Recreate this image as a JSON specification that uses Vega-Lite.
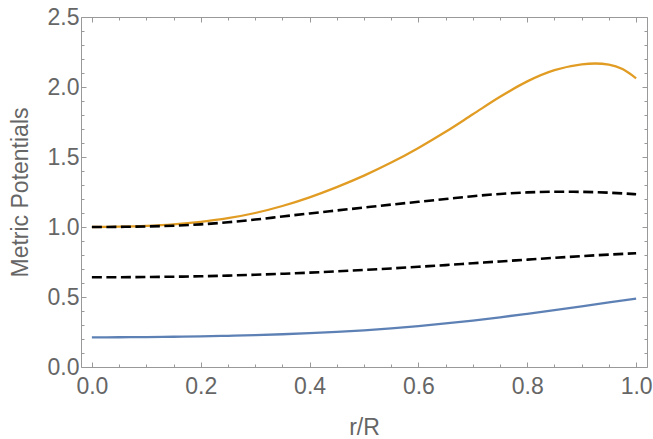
{
  "$schema": "https://vega.github.io/schema/vega-lite/v6.json",
  "width": 566,
  "height": 350,
  "autosize": {"type": "none"},
  "padding": {"left": 81, "top": 17, "right": 6, "bottom": 72},
  "background": "white",
  "config": {"view": {"stroke": null}},
  "data": {
    "values": [
      {"x": 0.0, "y": 0.212, "series": "blue"},
      {"x": 0.05, "y": 0.2125, "series": "blue"},
      {"x": 0.1, "y": 0.214, "series": "blue"},
      {"x": 0.15, "y": 0.216, "series": "blue"},
      {"x": 0.2, "y": 0.219, "series": "blue"},
      {"x": 0.25, "y": 0.223, "series": "blue"},
      {"x": 0.3, "y": 0.228, "series": "blue"},
      {"x": 0.35, "y": 0.234, "series": "blue"},
      {"x": 0.4, "y": 0.242, "series": "blue"},
      {"x": 0.45, "y": 0.251, "series": "blue"},
      {"x": 0.5, "y": 0.262, "series": "blue"},
      {"x": 0.55, "y": 0.276, "series": "blue"},
      {"x": 0.6, "y": 0.292, "series": "blue"},
      {"x": 0.65, "y": 0.311, "series": "blue"},
      {"x": 0.7, "y": 0.332, "series": "blue"},
      {"x": 0.75, "y": 0.355, "series": "blue"},
      {"x": 0.8, "y": 0.38, "series": "blue"},
      {"x": 0.85, "y": 0.406, "series": "blue"},
      {"x": 0.9, "y": 0.433, "series": "blue"},
      {"x": 0.95, "y": 0.461, "series": "blue"},
      {"x": 1.0, "y": 0.488, "series": "blue"},
      {"x": 0.0, "y": 1.0, "series": "orange"},
      {"x": 0.05, "y": 1.002, "series": "orange"},
      {"x": 0.1, "y": 1.008, "series": "orange"},
      {"x": 0.15, "y": 1.019, "series": "orange"},
      {"x": 0.2, "y": 1.037, "series": "orange"},
      {"x": 0.25, "y": 1.063, "series": "orange"},
      {"x": 0.3, "y": 1.1, "series": "orange"},
      {"x": 0.35, "y": 1.15, "series": "orange"},
      {"x": 0.4, "y": 1.212, "series": "orange"},
      {"x": 0.45, "y": 1.285, "series": "orange"},
      {"x": 0.5, "y": 1.367, "series": "orange"},
      {"x": 0.55, "y": 1.46, "series": "orange"},
      {"x": 0.6, "y": 1.565, "series": "orange"},
      {"x": 0.65, "y": 1.68, "series": "orange"},
      {"x": 0.7, "y": 1.805, "series": "orange"},
      {"x": 0.75, "y": 1.93, "series": "orange"},
      {"x": 0.8, "y": 2.04, "series": "orange"},
      {"x": 0.85, "y": 2.12, "series": "orange"},
      {"x": 0.9, "y": 2.162, "series": "orange"},
      {"x": 0.925, "y": 2.168, "series": "orange"},
      {"x": 0.95, "y": 2.16, "series": "orange"},
      {"x": 0.975, "y": 2.128, "series": "orange"},
      {"x": 1.0, "y": 2.062, "series": "orange"},
      {"x": 0.0, "y": 1.0, "series": "upper"},
      {"x": 0.05, "y": 1.001, "series": "upper"},
      {"x": 0.1, "y": 1.004, "series": "upper"},
      {"x": 0.15, "y": 1.009, "series": "upper"},
      {"x": 0.2, "y": 1.019, "series": "upper"},
      {"x": 0.25, "y": 1.034, "series": "upper"},
      {"x": 0.3, "y": 1.053, "series": "upper"},
      {"x": 0.35, "y": 1.075, "series": "upper"},
      {"x": 0.4, "y": 1.097, "series": "upper"},
      {"x": 0.45, "y": 1.118, "series": "upper"},
      {"x": 0.5, "y": 1.139, "series": "upper"},
      {"x": 0.55, "y": 1.16, "series": "upper"},
      {"x": 0.6, "y": 1.18, "series": "upper"},
      {"x": 0.65, "y": 1.2, "series": "upper"},
      {"x": 0.7, "y": 1.22, "series": "upper"},
      {"x": 0.75, "y": 1.236, "series": "upper"},
      {"x": 0.8, "y": 1.247, "series": "upper"},
      {"x": 0.85, "y": 1.252, "series": "upper"},
      {"x": 0.9, "y": 1.251, "series": "upper"},
      {"x": 0.95, "y": 1.245, "series": "upper"},
      {"x": 1.0, "y": 1.234, "series": "upper"},
      {"x": 0.0, "y": 0.641, "series": "lower"},
      {"x": 0.05, "y": 0.6415, "series": "lower"},
      {"x": 0.1, "y": 0.643, "series": "lower"},
      {"x": 0.15, "y": 0.645, "series": "lower"},
      {"x": 0.2, "y": 0.648, "series": "lower"},
      {"x": 0.25, "y": 0.653, "series": "lower"},
      {"x": 0.3, "y": 0.659, "series": "lower"},
      {"x": 0.35, "y": 0.666, "series": "lower"},
      {"x": 0.4, "y": 0.674, "series": "lower"},
      {"x": 0.45, "y": 0.683, "series": "lower"},
      {"x": 0.5, "y": 0.693, "series": "lower"},
      {"x": 0.55, "y": 0.704, "series": "lower"},
      {"x": 0.6, "y": 0.716, "series": "lower"},
      {"x": 0.65, "y": 0.728, "series": "lower"},
      {"x": 0.7, "y": 0.741, "series": "lower"},
      {"x": 0.75, "y": 0.754, "series": "lower"},
      {"x": 0.8, "y": 0.767, "series": "lower"},
      {"x": 0.85, "y": 0.780, "series": "lower"},
      {"x": 0.9, "y": 0.792, "series": "lower"},
      {"x": 0.95, "y": 0.803, "series": "lower"},
      {"x": 1.0, "y": 0.813, "series": "lower"}
    ]
  },
  "layer": [
    {
      "transform": [{"filter": {"field": "series", "oneOf": ["blue", "orange"]}}],
      "mark": {"type": "line", "strokeWidth": 2.3, "interpolate": "monotone", "clip": true},
      "encoding": {
        "x": {
          "field": "x", "type": "quantitative",
          "scale": {"domain": [-0.02, 1.02], "nice": false, "zero": false},
          "axis": {
            "orient": "bottom",
            "values": [0, 0.05, 0.1, 0.15, 0.2, 0.25, 0.3, 0.35, 0.4, 0.45, 0.5, 0.55, 0.6, 0.65, 0.7, 0.75, 0.8, 0.85, 0.9, 0.95, 1.0],
            "labelExpr": "abs(round(datum.value*5)-datum.value*5) < 0.000001 ? format(datum.value, '.1f') : ''",
            "tickSize": {"condition": {"test": "abs(round(datum.value*5)-datum.value*5) < 0.000001", "value": -5}, "value": -3},
            "tickColor": "#999999", "tickWidth": 1,
            "domainColor": "#999999", "domainWidth": 1,
            "grid": false, "labelFlush": false, "labelOverlap": false,
            "labelPadding": 13,
            "labelFont": "Liberation Sans", "labelFontSize": 23, "labelColor": "#666666",
            "title": "r/R", "titleFont": "Liberation Sans", "titleFontSize": 23,
            "titleFontWeight": "normal", "titleColor": "#666666",
            "titleBaseline": "alphabetic", "titleY": 67
          }
        },
        "y": {
          "field": "y", "type": "quantitative",
          "scale": {"domain": [0, 2.5], "nice": false, "zero": false},
          "axis": {
            "orient": "left",
            "values": [0, 0.1, 0.2, 0.3, 0.4, 0.5, 0.6, 0.7, 0.8, 0.9, 1.0, 1.1, 1.2, 1.3, 1.4, 1.5, 1.6, 1.7, 1.8, 1.9, 2.0, 2.1, 2.2, 2.3, 2.4, 2.5],
            "labelExpr": "abs(round(datum.value*2)-datum.value*2) < 0.000001 ? format(datum.value, '.1f') : ''",
            "tickSize": {"condition": {"test": "abs(round(datum.value*2)-datum.value*2) < 0.000001", "value": -5}, "value": -3},
            "tickColor": "#999999", "tickWidth": 1,
            "domainColor": "#999999", "domainWidth": 1,
            "grid": false, "labelFlush": false, "labelOverlap": false,
            "labelPadding": 7,
            "labelFont": "Liberation Sans", "labelFontSize": 23, "labelColor": "#666666",
            "title": "Metric Potentials", "titleFont": "Liberation Sans", "titleFontSize": 23,
            "titleFontWeight": "normal", "titleColor": "#666666",
            "titleBaseline": "alphabetic", "titleX": -54
          }
        },
        "color": {
          "field": "series", "type": "nominal",
          "scale": {"domain": ["blue", "orange"], "range": ["#5E81B5", "#E19C24"]},
          "legend": null
        }
      }
    },
    {
      "transform": [{"filter": {"field": "series", "oneOf": ["upper", "lower"]}}],
      "mark": {"type": "line", "strokeWidth": 2.6, "color": "#000000", "strokeDash": [10, 4.5], "interpolate": "monotone", "clip": true},
      "encoding": {
        "x": {
          "field": "x", "type": "quantitative",
          "axis": {
            "orient": "top",
            "values": [0, 0.05, 0.1, 0.15, 0.2, 0.25, 0.3, 0.35, 0.4, 0.45, 0.5, 0.55, 0.6, 0.65, 0.7, 0.75, 0.8, 0.85, 0.9, 0.95, 1.0],
            "labels": false,
            "tickSize": {"condition": {"test": "abs(round(datum.value*5)-datum.value*5) < 0.000001", "value": -5}, "value": -3},
            "tickColor": "#999999", "tickWidth": 1,
            "domainColor": "#999999", "domainWidth": 1,
            "grid": false, "title": null
          }
        },
        "y": {
          "field": "y", "type": "quantitative",
          "axis": {
            "orient": "right",
            "values": [0, 0.1, 0.2, 0.3, 0.4, 0.5, 0.6, 0.7, 0.8, 0.9, 1.0, 1.1, 1.2, 1.3, 1.4, 1.5, 1.6, 1.7, 1.8, 1.9, 2.0, 2.1, 2.2, 2.3, 2.4, 2.5],
            "labels": false,
            "tickSize": {"condition": {"test": "abs(round(datum.value*2)-datum.value*2) < 0.000001", "value": -5}, "value": -3},
            "tickColor": "#999999", "tickWidth": 1,
            "domainColor": "#999999", "domainWidth": 1,
            "grid": false, "title": null
          }
        },
        "detail": {"field": "series", "type": "nominal"}
      }
    }
  ],
  "resolve": {"axis": {"x": "independent", "y": "independent"}}
}
